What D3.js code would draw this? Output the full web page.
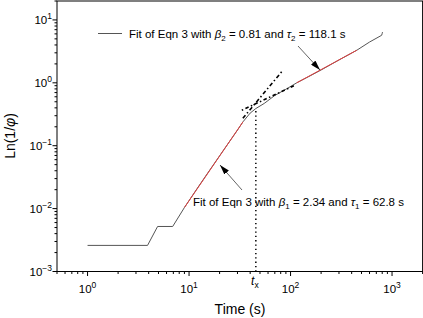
<!DOCTYPE html>
<html><head><meta charset="utf-8">
<script src="https://cdn.jsdelivr.net/npm/d3@7"></script>
<style>
html,body{margin:0;padding:0;background:#fff;}
svg{display:block;font-family:"Liberation Sans",Arial,Helvetica,sans-serif;}
</style></head><body>
<svg id="c" width="423" height="318"></svg>
<script>
// ---- data ----
const timeS = [1, 3.9, 4.9, 6.9, 9, 12, 16, 20, 25, 30, 34, 40, 45.5, 55, 70, 90, 115, 150, 200, 300, 450, 600, 790, 800, 805];
const lnInvPhi = [0.0026, 0.0026, 0.0052, 0.0052, 0.0104, 0.0208, 0.041, 0.069, 0.116, 0.177, 0.24, 0.33, 0.39, 0.47, 0.63, 0.79, 1.0, 1.25, 1.6, 2.31, 3.3, 4.45, 5.7, 6.1, 6.4];
const fit1T = [9, 34];        const fit1Y = [0.0104, 0.24];   // red fit, beta1
const fit2T = [115, 450];     const fit2Y = [1.0, 3.3];       // red fit, beta2
const ext1T = [33.9, 84];     const ext1Y = [0.273, 1.58];    // dash-dot extension of fit 1
const ext2T = [33.1, 110];    const ext2Y = [0.366, 0.91];    // dash-dot extension of fit 2
const tx = 45.5;              const txY = 0.39;               // crossover time
const xTicks = [1, 10, 100, 1000];
const yTicks = [1e-3, 1e-2, 1e-1, 1, 10];
const xDomain = [0.5, 2000];
const yDomain = [1e-3, 20];

// ---- layout ----
const svg = d3.select("#c");
const L = 57, R = 422.6, T = 1, B = 271.5;
const x = d3.scaleLog().domain(xDomain).range([L, R]);
const y = d3.scaleLog().domain(yDomain).range([B, T]);
const lineGen = d3.line().x(d => x(d[0])).y(d => y(d[1]));
const zip = (a, b) => a.map((v, i) => [v, b[i]]);
const supNum = n => { const e = Math.round(Math.log10(n)); return e < 0 ? "\u2212" + (-e) : "" + e; };

// minor ticks
const minorX = [], minorY = [];
for (let d = -1; d <= 3; d++) for (let m = 1; m <= 9; m++) { const v = m * Math.pow(10, d); if (v >= xDomain[0] && v <= xDomain[1]) minorX.push(v); }
for (let d = -3; d <= 1; d++) for (let m = 1; m <= 9; m++) { const v = m * Math.pow(10, d); if (v >= yDomain[0] && v <= yDomain[1]) minorY.push(v); }

const axisG = svg.append("g");
axisG.append("rect").attr("x", L).attr("y", T).attr("width", R - L).attr("height", B - T)
  .attr("fill", "none").attr("stroke", "#000").attr("stroke-width", 1);
axisG.selectAll(".xm").data(minorX).enter().append("line")
  .attr("x1", d => x(d)).attr("x2", d => x(d)).attr("y1", B).attr("y2", d => xTicks.includes(d) ? B + 4.5 : B + 2.5)
  .attr("stroke", "#000").attr("stroke-width", 1);
axisG.selectAll(".ym").data(minorY).enter().append("line")
  .attr("y1", d => y(d)).attr("y2", d => y(d)).attr("x1", L).attr("x2", d => yTicks.some(t => Math.abs(t - d) / t < 1e-9) ? L - 4.5 : L - 2.5)
  .attr("stroke", "#000").attr("stroke-width", 1);

xTicks.forEach(v => {
  const t = svg.append("text").attr("x", x(v)).attr("y", 293).attr("text-anchor", "middle").attr("font-size", 11.5);
  t.append("tspan").text("10");
  t.append("tspan").attr("dy", -5).attr("font-size", 8.5).text(supNum(v));
});
yTicks.forEach(v => {
  const t = svg.append("text").attr("x", 52).attr("y", y(v) + 4.5).attr("text-anchor", "end").attr("font-size", 11.5);
  t.append("tspan").text("10");
  t.append("tspan").attr("dy", -5).attr("font-size", 8.5).text(supNum(v));
});

svg.append("text").attr("x", 240).attr("y", 314).attr("text-anchor", "middle").attr("font-size", 14).text("Time (s)");
const yl = svg.append("text").attr("transform", "translate(15,136) rotate(-90)").attr("text-anchor", "middle").attr("font-size", 14);
yl.append("tspan").text("Ln(1/");
yl.append("tspan").attr("font-style", "italic").text("\u03C6");
yl.append("tspan").text(")");

const txl = svg.append("text").attr("x", x(tx) - 1).attr("y", 285).attr("text-anchor", "middle").attr("font-size", 12);
txl.append("tspan").attr("font-style", "italic").text("t");
txl.append("tspan").attr("dy", 3).attr("font-size", 8.5).text("x");

svg.append("line").attr("x1", x(tx)).attr("x2", x(tx)).attr("y1", y(yDomain[0])).attr("y2", y(txY))
  .attr("stroke", "#000").attr("stroke-width", 1.5).attr("stroke-dasharray", "1.3,3");

svg.append("path").attr("d", lineGen(zip(timeS, lnInvPhi))).attr("fill", "none").attr("stroke", "#555").attr("stroke-width", 1);
svg.append("path").attr("d", lineGen(zip(fit1T, fit1Y))).attr("fill", "none").attr("stroke", "#e04040").attr("stroke-width", 1);
svg.append("path").attr("d", lineGen(zip(fit2T, fit2Y))).attr("fill", "none").attr("stroke", "#e04040").attr("stroke-width", 1);
svg.append("path").attr("d", lineGen(zip(ext1T, ext1Y))).attr("fill", "none").attr("stroke", "#000").attr("stroke-width", 1.6).attr("stroke-dasharray", "4,2.5,1.5,2.5");
svg.append("path").attr("d", lineGen(zip(ext2T, ext2Y))).attr("fill", "none").attr("stroke", "#000").attr("stroke-width", 1.6).attr("stroke-dasharray", "1.5,2.5,3.5,2.5");

svg.append("defs").append("marker").attr("id", "ah").attr("viewBox", "0 0 10 6").attr("refX", 10).attr("refY", 3)
  .attr("markerWidth", 10).attr("markerHeight", 6).attr("markerUnits", "userSpaceOnUse").attr("orient", "auto")
  .append("path").attr("d", "M0,0 L10,3 L0,6 z").attr("fill", "#000");

svg.append("line").attr("x1", 98).attr("x2", 122).attr("y1", 33.5).attr("y2", 33.5).attr("stroke", "#555").attr("stroke-width", 1);
function annot(xp, yp, beta, bsub, tau, tsub) {
  const t = svg.append("text").attr("x", xp).attr("y", yp).attr("font-size", 11.5);
  t.append("tspan").text("Fit of Eqn 3 with ");
  t.append("tspan").attr("font-style", "italic").text("\u03B2");
  t.append("tspan").attr("dy", 3).attr("font-size", 8).text(bsub);
  t.append("tspan").attr("dy", -3).text(" = " + beta + " and ");
  t.append("tspan").attr("font-style", "italic").text("\u03C4");
  t.append("tspan").attr("dy", 3).attr("font-size", 8).text(tsub);
  t.append("tspan").attr("dy", -3).text(" = " + tau + " s");
}
annot(129, 38, "0.81", "2", "118.1", "2");
annot(193, 206, "2.34", "1", "62.8", "1");

svg.append("line").attr("x1", 298).attr("y1", 46).attr("x2", 320).attr("y2", 70)
  .attr("stroke", "#666").attr("stroke-width", 1).attr("marker-end", "url(#ah)");
svg.append("line").attr("x1", 242).attr("y1", 190).attr("x2", 220).attr("y2", 165)
  .attr("stroke", "#666").attr("stroke-width", 1).attr("marker-end", "url(#ah)");
</script>
</body></html>
